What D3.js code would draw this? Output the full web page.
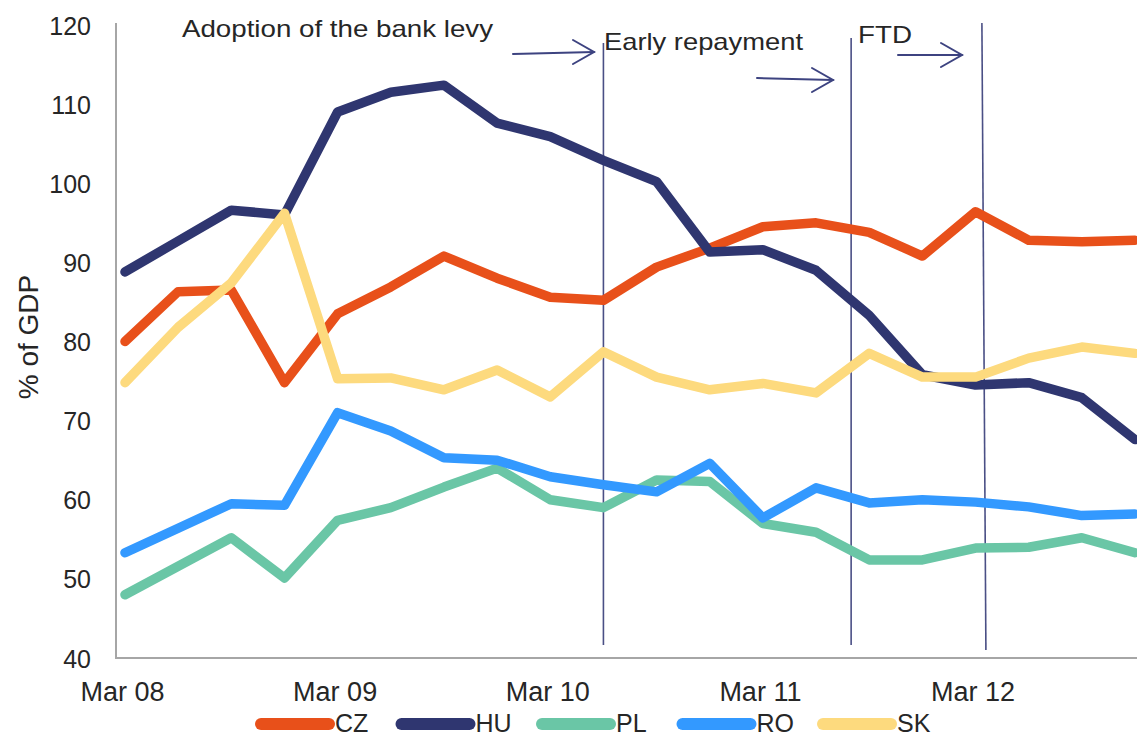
<!DOCTYPE html>
<html>
<head>
<meta charset="utf-8">
<script src="https://cdn.jsdelivr.net/npm/d3@7"></script>
<style>
  body { margin: 0; background: #fff; }
  text { font-family: "Liberation Sans", Arial, sans-serif; fill: #262626; }
</style>
</head>
<body>
<script>
// quarterly data, Mar 08 .. Dec 12
var quarters = ["Mar 08","Jun 08","Sep 08","Dec 08","Mar 09","Jun 09","Sep 09","Dec 09",
                "Mar 10","Jun 10","Sep 10","Dec 10","Mar 11","Jun 11","Sep 11","Dec 11",
                "Mar 12","Jun 12","Sep 12","Dec 12"];
var tickLabels = ["Mar 08","Mar 09","Mar 10","Mar 11","Mar 12"];
var yTicks = [40, 50, 60, 70, 80, 90, 100, 110, 120];

var countries = ["CZ","HU","PL","RO","SK"];
var colors    = ["#E8501A","#2F3670","#6AC6A6","#3399FF","#FDDA7E"];

var CZ = [80.0, 86.3, 86.5, 74.8, 83.5, 86.9, 90.8, 88.0, 85.6, 85.2, 89.4, 91.8, 94.5, 95.0, 93.8, 90.8, 96.4, 92.8, 92.6, 92.8];
var HU = [88.8, 92.7, 96.6, 96.0, 109.0, 111.5, 112.4, 107.6, 105.9, 102.9, 100.2, 91.3, 91.6, 89.0, 83.3, 75.8, 74.5, 74.8, 72.9, 67.6];
var PL = [48.0, 51.6, 55.2, 50.1, 57.4, 59.0, 61.6, 64.0, 60.0, 59.0, 62.5, 62.3, 57.0, 55.9, 52.4, 52.4, 53.9, 54.0, 55.2, 53.3];
var RO = [53.3, 56.4, 59.5, 59.3, 71.0, 68.7, 65.3, 65.0, 62.9, 61.9, 61.0, 64.6, 57.7, 61.5, 59.6, 60.0, 59.7, 59.1, 58.0, 58.2];
var SK = [74.8, 81.8, 87.4, 96.2, 75.3, 75.4, 73.9, 76.4, 73.0, 78.7, 75.5, 73.9, 74.7, 73.5, 78.5, 75.5, 75.5, 77.9, 79.3, 78.5];

// event markers, in quarter-index units
var eventPos = [9, 13.66, 16.12];
var eventText = ["Adoption of the bank levy", "Early repayment", "FTD"];

var width = 1137, height = 738;

var svg = d3.select("body").append("svg")
    .attr("width", width)
    .attr("height", height);

var x = d3.scaleLinear().domain([0, quarters.length - 1]).range([125, 1135]);
var y = d3.scaleLinear().domain([40, 120]).range([658, 25]);

// axes
var yAxis = svg.append("g")
    .attr("transform", "translate(116,0)")
    .call(d3.axisLeft(y).tickValues(yTicks).tickSize(0).tickPadding(25));
yAxis.select(".domain").remove();
yAxis.selectAll("text")
    .style("font-size", "25px")
    .attr("dy", "0.36em");

var xAxis = svg.append("g")
    .attr("transform", "translate(0,658)")
    .call(d3.axisBottom(x)
        .tickValues(tickLabels.map(function(d){ return quarters.indexOf(d); }))
        .tickFormat(function(i){ return quarters[i]; })
        .tickSize(0).tickPadding(24));
xAxis.select(".domain").remove();
xAxis.selectAll("text")
    .style("font-size", "27px")
    .attr("dx", "-3px");

svg.append("line")
    .attr("x1", 116).attr("x2", 116).attr("y1", 23).attr("y2", 659)
    .attr("stroke", "#A6A6A6").attr("stroke-width", 2);
svg.append("line")
    .attr("x1", 115).attr("x2", width).attr("y1", 658).attr("y2", 658)
    .attr("stroke", "#A6A6A6").attr("stroke-width", 2);

// y label
svg.append("text")
    .attr("transform", "translate(38,337) rotate(-90)")
    .attr("text-anchor", "middle")
    .style("font-size", "28px")
    .text("% of GDP");

// event lines
var evTop = [43, 38, 23], evBot = [645, 645, 650];
svg.selectAll("line.event").data(eventPos).enter().append("line")
    .attr("class", "event")
    .attr("x1", function(d){ return x(d); })
    .attr("x2", function(d, i){ return x(d) + (i == 2 ? 4 : 0); })
    .attr("y1", function(d, i){ return evTop[i]; })
    .attr("y2", function(d, i){ return evBot[i]; })
    .attr("stroke", "#4A4F85")
    .attr("stroke-width", 1.6);

// series
var series = [CZ, HU, PL, RO, SK];
var line = d3.line()
    .x(function(d, i){ return x(i); })
    .y(function(d){ return y(d); });

svg.selectAll("path.series").data(series).enter().append("path")
    .attr("class", "series")
    .attr("d", line)
    .attr("fill", "none")
    .attr("stroke", function(d, i){ return colors[i]; })
    .attr("stroke-width", 9.5)
    .attr("stroke-linejoin", "round")
    .attr("stroke-linecap", "round");

// annotations
var notes = [
  {x: 182, y: 37, len: 311},
  {x: 604, y: 50, len: 199},
  {x: 858, y: 43, len: 54}
];
svg.selectAll("text.note").data(notes).enter().append("text")
    .attr("class", "note")
    .attr("x", function(d){ return d.x; })
    .attr("y", function(d){ return d.y; })
    .attr("textLength", function(d){ return d.len; })
    .attr("lengthAdjust", "spacingAndGlyphs")
    .style("font-size", "24px")
    .text(function(d, i){ return eventText[i]; });

var arrows = [
  {x1: 513, x2: 594, y1: 54, y2: 52},
  {x1: 757, x2: 833, y1: 78, y2: 80},
  {x1: 898, x2: 962, y1: 55, y2: 55}
];
arrows.forEach(function(a){
  var g = svg.append("g")
      .attr("stroke", "#3D4380").attr("stroke-width", 2).attr("fill", "none")
      .attr("stroke-linecap", "round");
  g.append("line").attr("x1", a.x1).attr("y1", a.y1).attr("x2", a.x2).attr("y2", a.y2);
  g.append("path").attr("d",
      "M" + (a.x2 - 21) + "," + (a.y2 - 12) + "L" + a.x2 + "," + a.y2 + "L" + (a.x2 - 21) + "," + (a.y2 + 12));
});

// legend
var legend = svg.selectAll("g.legend").data(countries).enter().append("g")
    .attr("class", "legend")
    .attr("transform", function(d, i){ return "translate(" + (261 + i * 140.5) + ",724)"; });
legend.append("line")
    .attr("x1", 0).attr("x2", 68)
    .attr("stroke", function(d, i){ return colors[i]; })
    .attr("stroke-width", 12)
    .attr("stroke-linecap", "round");
legend.append("text")
    .attr("x", 74).attr("y", 8)
    .style("font-size", "25px")
    .text(function(d){ return d; });
</script>
</body>
</html>
